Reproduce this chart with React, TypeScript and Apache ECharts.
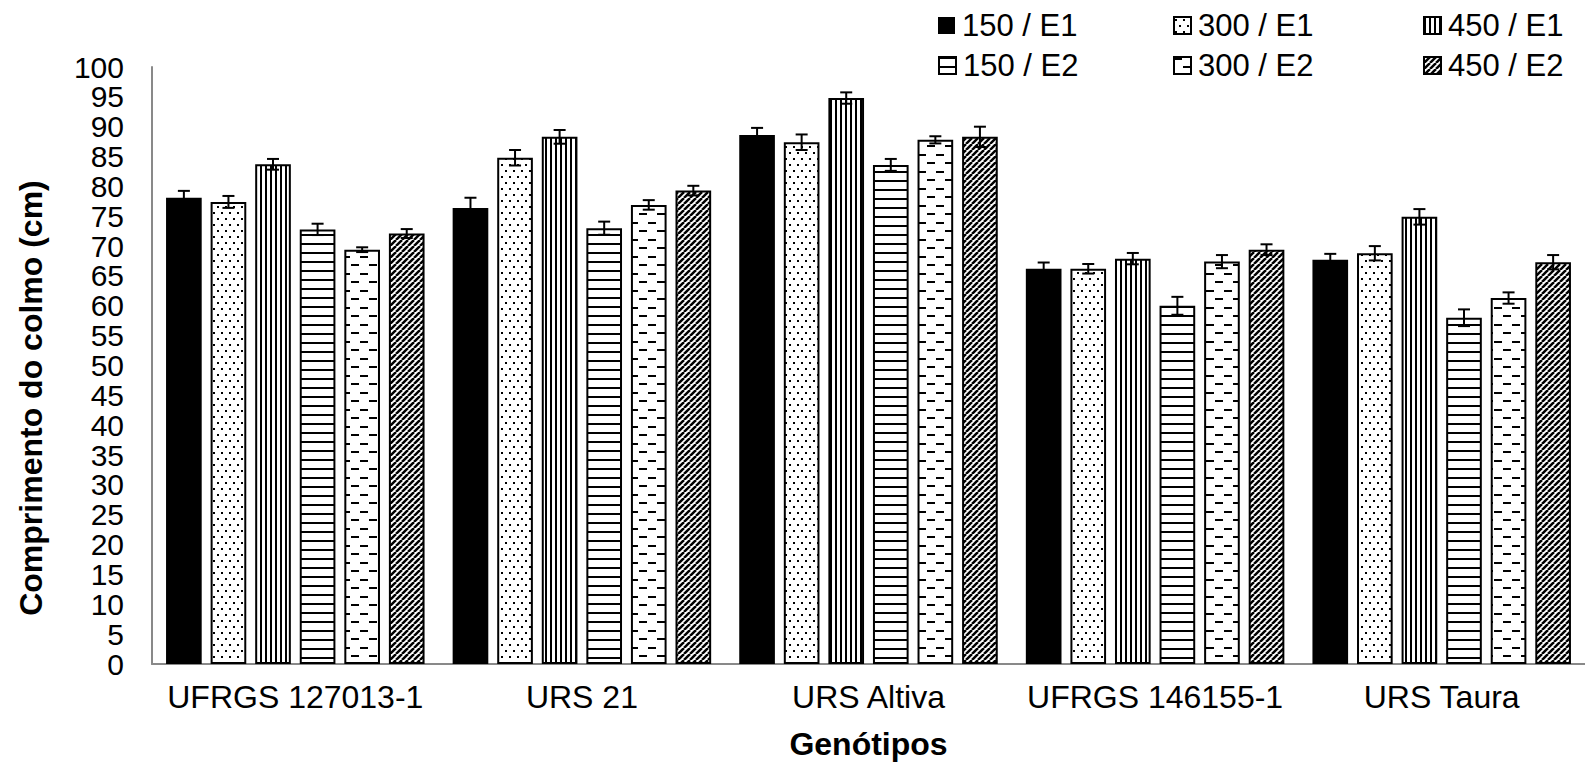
import React, { useEffect, useRef } from "react";
import * as echarts from "echarts";

const categories = ["UFRGS 127013-1", "URS 21", "URS Altiva", "UFRGS 146155-1", "URS Taura"];
const seriesNames = ["150 / E1", "300 / E1", "450 / E1", "150 / E2", "300 / E2", "450 / E2"];

const v150E1 = [78.1, 76.4, 88.6, 66.2, 67.7];
const e150E1 = [1.15, 1.7, 1.2, 1.05, 1.0];
const v300E1 = [77.4, 84.8, 87.4, 66.2, 68.8];
const e300E1 = [1.0, 1.3, 1.3, 0.8, 1.2];
const v450E1 = [83.7, 88.3, 94.8, 67.9, 74.9];
const e450E1 = [0.9, 1.15, 0.95, 0.95, 1.3];
const v150E2 = [72.8, 73.0, 83.6, 60.0, 58.0];
const e150E2 = [0.95, 1.1, 1.0, 1.5, 1.4];
const v300E2 = [69.4, 76.9, 87.8, 67.4, 61.3];
const e300E2 = [0.4, 0.8, 0.6, 1.1, 0.95];
const v450E2 = [72.1, 79.3, 88.3, 69.4, 67.3];
const e450E2 = [0.75, 0.8, 1.7, 0.9, 1.2];

const values = [v150E1, v300E1, v450E1, v150E2, v300E2, v450E2];
const errors = [e150E1, e300E1, e450E1, e150E2, e300E2, e450E2];

const yMin = 0;
const yMax = 100;
const yInterval = 5;

const xTitle = "Genótipos";
const yTitle = "Comprimento do colmo (cm)";

const FONT = "'Liberation Sans', Arial, Helvetica, sans-serif";
const CAT_GAP = 0.098;
const BAR_GAP = 0.25;

type Kind = "solid" | "dots" | "vlines" | "hlines" | "dashes" | "diag";
const kinds: Kind[] = ["solid", "dots", "vlines", "hlines", "dashes", "diag"];

function makePattern(kind: Kind): any {
  if (kind === "solid") return "#000000";
  const c = document.createElement("canvas");
  let w = 8;
  let h = 8;
  if (kind === "dots") { w = 8; h = 12; }
  if (kind === "vlines") { w = 5; h = 5; }
  if (kind === "hlines") { w = 9; h = 9; }
  if (kind === "dashes") { w = 18; h = 17; }
  if (kind === "diag") { w = 6; h = 6; }
  c.width = w;
  c.height = h;
  const ctx = c.getContext("2d")!;
  ctx.fillStyle = "#ffffff";
  ctx.fillRect(0, 0, w, h);
  ctx.fillStyle = "#000000";
  ctx.strokeStyle = "#000000";
  if (kind === "dots") {
    ctx.fillRect(1, 2, 2, 2);
    ctx.fillRect(5, 8, 2, 2);
  } else if (kind === "vlines") {
    ctx.fillRect(0, 0, 2, h);
  } else if (kind === "hlines") {
    ctx.fillRect(0, 0, w, 2);
  } else if (kind === "dashes") {
    ctx.fillRect(0, 1, 8, 2);
    ctx.fillRect(9, 9, 8, 2);
  } else if (kind === "diag") {
    ctx.lineWidth = 2.5;
    for (const x0 of [-6, 0, 6]) {
      ctx.beginPath();
      ctx.moveTo(x0, h);
      ctx.lineTo(x0 + w, 0);
      ctx.stroke();
    }
  }
  return { image: c, repeat: "repeat", imageWidth: w, imageHeight: h };
}

const legendPos = [
  { left: 938, top: 10 },
  { left: 1173, top: 10 },
  { left: 1423, top: 10 },
  { left: 938, top: 50 },
  { left: 1173, top: 50 },
  { left: 1423, top: 50 },
];

export default function App() {
  const ref = useRef<HTMLDivElement>(null);
  useEffect(() => {
    if (!ref.current) return;
    const chart = echarts.init(ref.current, undefined, { renderer: "svg" });

    const barSeries = seriesNames.map((name, i) => ({
      name,
      type: "bar",
      data: values[i],
      barGap: `${BAR_GAP * 100}%`,
      barCategoryGap: `${CAT_GAP * 100}%`,
      itemStyle: {
        color: makePattern(kinds[i]),
        borderColor: "#000000",
        borderWidth: i === 0 ? 0 : 2,
      },
      emphasis: { disabled: true },
      z: 2,
    }));

    const errData: number[][] = [];
    values.forEach((arr, si) => {
      arr.forEach((v, ci) => {
        errData.push([ci, v, errors[si][ci], si]);
      });
    });

    const errorSeries = {
      type: "custom",
      z: 10,
      silent: true,
      data: errData,
      encode: { x: 0, y: 1 },
      renderItem: (_params: any, api: any) => {
        const cat = api.value(0);
        const val = api.value(1);
        const err = api.value(2);
        const si = api.value(3);
        const band = api.size([1, 0])[0];
        const usable = band * (1 - CAT_GAP);
        const bw = usable / (6 + 5 * BAR_GAP);
        const off = -usable / 2 + bw / 2 + si * bw * (1 + BAR_GAP);
        const top = api.coord([cat, val + err]);
        const bot = api.coord([cat, val - err]);
        const x = top[0] + off;
        const cap = 6;
        const st = { stroke: "#000000", lineWidth: 2 };
        return {
          type: "group",
          children: [
            { type: "line", shape: { x1: x, y1: top[1], x2: x, y2: bot[1] }, style: st },
            { type: "line", shape: { x1: x - cap, y1: top[1], x2: x + cap, y2: top[1] }, style: st },
            { type: "line", shape: { x1: x - cap, y1: bot[1], x2: x + cap, y2: bot[1] }, style: st },
          ],
        };
      },
    };

    const legends = seriesNames.map((name, i) => ({
      show: true,
      data: [name],
      left: legendPos[i].left,
      top: legendPos[i].top,
      icon: "rect",
      itemWidth: 17,
      itemHeight: 17,
      selectedMode: false,
      padding: 0,
      textStyle: {
        fontSize: 31,
        fontFamily: FONT,
        color: "#000000",
        padding: [0, 0, 0, 2],
      },
    }));

    chart.setOption({
      animation: false,
      backgroundColor: "#ffffff",
      legend: legends,
      grid: { left: 152, top: 67, width: 1435, height: 601, containLabel: false },
      xAxis: {
        type: "category",
        data: categories,
        axisLine: { show: true, lineStyle: { color: "#898989", width: 2 } },
        axisTick: { show: false },
        axisLabel: { fontSize: 32, fontFamily: FONT, color: "#000000", margin: 17, interval: 0 },
        name: xTitle,
        nameLocation: "middle",
        nameGap: 64,
        nameTextStyle: { fontSize: 32, fontWeight: "bold", fontFamily: FONT, color: "#000000" },
      },
      yAxis: {
        type: "value",
        min: yMin,
        max: yMax,
        interval: yInterval,
        axisLine: { show: true, lineStyle: { color: "#898989", width: 2 } },
        axisTick: { show: false },
        splitLine: { show: false },
        axisLabel: { fontSize: 30, fontFamily: FONT, color: "#000000", margin: 28 },
      },
      graphic: [
        {
          type: "text",
          x: 31,
          y: 398,
          rotation: Math.PI / 2,
          style: {
            text: yTitle,
            fontSize: 32,
            fontWeight: "bold",
            fontFamily: FONT,
            fill: "#000000",
            align: "center",
            verticalAlign: "middle",
          },
        },
      ],
      series: [...barSeries, errorSeries],
    });

    return () => {
      chart.dispose();
    };
  }, []);

  return (
    <div
      ref={ref}
      style={{ position: "fixed", left: 0, top: 0, width: 1585, height: 765, background: "#ffffff" }}
    />
  );
}
